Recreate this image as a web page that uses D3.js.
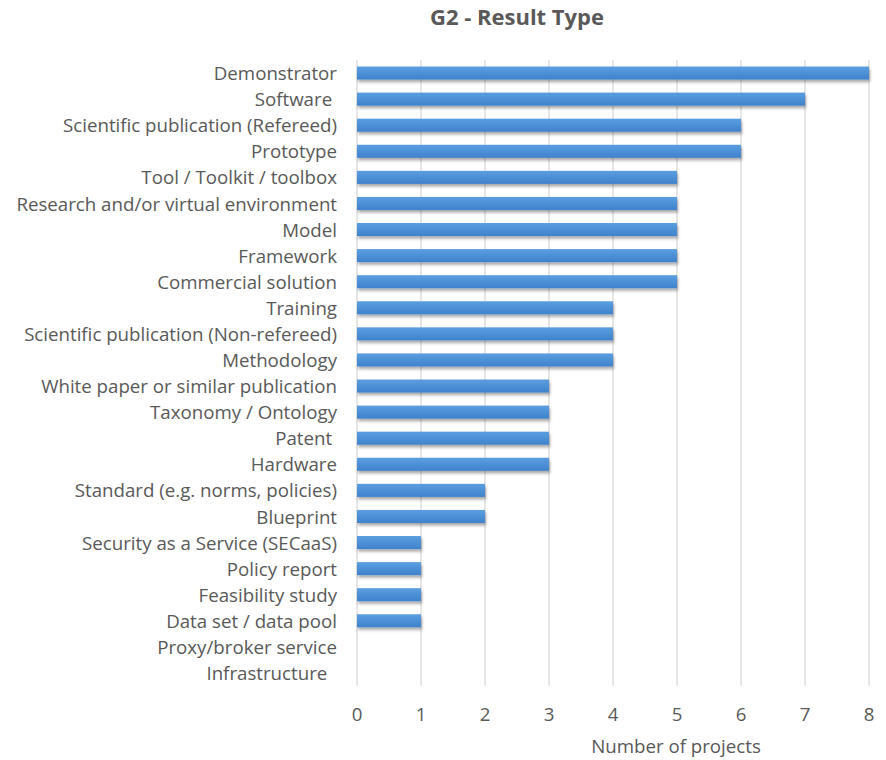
<!DOCTYPE html>
<html><head><meta charset="utf-8">
<script src="https://cdn.jsdelivr.net/npm/d3@7"></script>
<style>body{margin:0;background:#fff}svg{display:block}</style>
</head><body>
<script>
const categories = ["Demonstrator","Software ","Scientific publication (Refereed)","Prototype","Tool / Toolkit / toolbox","Research and/or virtual environment","Model","Framework","Commercial solution","Training","Scientific publication (Non-refereed)","Methodology","White paper or similar publication","Taxonomy / Ontology","Patent ","Hardware","Standard (e.g. norms, policies)","Blueprint","Security as a Service (SECaaS)","Policy report","Feasibility study","Data set / data pool","Proxy/broker service","Infrastructure  "];
const values = [8,7,6,6,5,5,5,5,5,4,4,4,3,3,3,3,2,2,1,1,1,1,0,0];
const xTicks = [0,1,2,3,4,5,6,7,8];
const title = "G2 - Result Type";
const xTitle = "Number of projects";

const W=886,H=760;
const svg=d3.select("body").append("svg").attr("width",W).attr("height",H);
const defs=svg.append("defs");
const g=defs.append("linearGradient").attr("id","bg").attr("x1",0).attr("y1",0).attr("x2",0).attr("y2",1);
g.append("stop").attr("offset","0%").attr("stop-color","#5b9ee0");
g.append("stop").attr("offset","100%").attr("stop-color","#3f82cc");
const f=defs.append("filter").attr("id","sh").attr("x","-5%").attr("y","-50%").attr("width","110%").attr("height","250%");
f.append("feDropShadow").attr("dx",1).attr("dy",2.5).attr("stdDeviation",1.6).attr("flood-color","#000").attr("flood-opacity",0.35);

const x=d3.scaleLinear().domain([0,8]).range([357,869]);
const y=d3.scaleBand().domain(categories).range([60,686]).paddingInner(0.5).paddingOuter(0.25);
const font="'Open Sans', sans-serif";
const fs=18.7;

svg.append("g").selectAll("line").data(xTicks).join("line")
 .attr("x1",d=>x(d)).attr("x2",d=>x(d)).attr("y1",60).attr("y2",686)
 .attr("stroke","#d9d9d9").attr("stroke-width",1.3);

svg.append("g").selectAll("rect").data(values).join("rect")
 .attr("x",x(0)).attr("y",(d,i)=>y(categories[i])).attr("width",d=>x(d)-x(0))
 .attr("height",y.bandwidth()).attr("fill","url(#bg)").attr("filter","url(#sh)");

svg.append("g").selectAll("text").data(categories).join("text")
 .attr("x",337).attr("y",d=>y(d)+y.bandwidth()/2+0.5).attr("dy","0.35em")
 .attr("text-anchor","end").attr("font-family",font).attr("font-size",fs)
 .attr("fill","#595959").style("white-space","pre").text(d=>d);

svg.append("g").selectAll("text").data(xTicks).join("text")
 .attr("x",d=>x(d)).attr("y",714).attr("dy","0.35em").attr("text-anchor","middle")
 .attr("font-family",font).attr("font-size",fs).attr("fill","#595959").text(d=>d);

svg.append("text").attr("x",676).attr("y",746).attr("dy","0.35em").attr("text-anchor","middle")
 .attr("font-family",font).attr("font-size",fs).attr("fill","#595959").text(xTitle);

svg.append("text").attr("x",517).attr("y",17).attr("dy","0.35em").attr("text-anchor","middle")
 .attr("font-family",font).attr("font-size",22).attr("font-weight","bold").attr("fill","#595959").text(title);
</script>
</body></html>
